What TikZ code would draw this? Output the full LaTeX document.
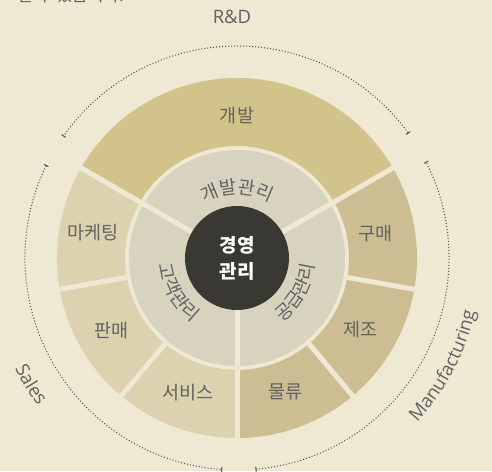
\documentclass[tikz,border=0pt]{standalone}
\usepackage{fontspec}
\setmainfont{Noto Sans CJK KR}
\newfontfamily\latinfont{Open Sans}
\usepackage{tikz}
\usetikzlibrary{
  arrows.meta,
  decorations.text
}
\definecolor{paper}{HTML}{EFE8D2}
\definecolor{rndfill}{HTML}{D2C38B}
\definecolor{mfgfill}{HTML}{CCBD93}
\definecolor{salesfill}{HTML}{DCD2AF}
\definecolor{corefill}{HTML}{D8D3BF}
\definecolor{hubfill}{HTML}{3A3832}
\definecolor{labelgray}{HTML}{626262}

\begin{document}
\begin{tikzpicture}[
  x=1pt, y=1pt,
  gap/.style={draw=paper, line width=5pt},
  segtext/.style={text=labelgray, font=\fontsize{18.5}{22}\selectfont},
  grouptext/.style={text=labelgray, font=\latinfont\fontsize{18.5}{22}\selectfont},
  notetext/.style={text=labelgray, font=\fontsize{17}{20}\selectfont, inner sep=0pt},
  span/.style={draw=labelgray!80!black, line width=1pt, dash pattern=on 1pt off 2pt, {Bar[width=5pt]}-{Bar[width=5pt]}},
  curved/.style={decorate, decoration={text along path, text align=center, text={#1}}}
]
\useasboundingbox (-237,-213) rectangle (255,258);
\fill[paper] (-237,-213) rectangle (255,258);

\node[notetext, anchor=base west] (note) at (-219.5,256) {할 수 있습니다.};

\fill[rndfill] (30:112pt) arc[start angle=30, end angle=150, radius=112pt] -- (150:180pt) arc[start angle=150, end angle=30, radius=180pt] -- cycle;
\fill[mfgfill] (-10:112pt) arc[start angle=-10, end angle=30, radius=112pt] -- (30:180pt) arc[start angle=30, end angle=-10, radius=180pt] -- cycle;
\fill[mfgfill] (-50:112pt) arc[start angle=-50, end angle=-10, radius=112pt] -- (-10:180pt) arc[start angle=-10, end angle=-50, radius=180pt] -- cycle;
\fill[mfgfill] (-90:112pt) arc[start angle=-90, end angle=-50, radius=112pt] -- (-50:180pt) arc[start angle=-50, end angle=-90, radius=180pt] -- cycle;
\fill[salesfill] (-130:112pt) arc[start angle=-130, end angle=-90, radius=112pt] -- (-90:180pt) arc[start angle=-90, end angle=-130, radius=180pt] -- cycle;
\fill[salesfill] (-170:112pt) arc[start angle=-170, end angle=-130, radius=112pt] -- (-130:180pt) arc[start angle=-130, end angle=-170, radius=180pt] -- cycle;
\fill[salesfill] (150:112pt) arc[start angle=150, end angle=190, radius=112pt] -- (190:180pt) arc[start angle=190, end angle=150, radius=180pt] -- cycle;
\fill[corefill] (0,0) circle[radius=108pt];

\draw[gap] (30:50pt) -- (30:183pt);
\draw[gap] (150:50pt) -- (150:183pt);
\draw[gap] (-90:50pt) -- (-90:183pt);
\draw[gap] (-10:110pt) -- (-10:183pt);
\draw[gap] (-50:110pt) -- (-50:183pt);
\draw[gap] (-130:110pt) -- (-130:183pt);
\draw[gap] (-170:110pt) -- (-170:183pt);

\node[circle, fill=hubfill, minimum size=104pt, inner sep=0pt, align=center, text=white, font=\bfseries\fontsize{19}{26}\selectfont] (hub) at (0,0) {경영\\관리};

\node[segtext] (dev) at (90:142pt) {개발};
\node[segtext] (purchase) at (10:141pt) {구매};
\node[segtext] (production) at (-30:143pt) {제조};
\node[segtext] (logistics) at (-70:142pt) {물류};
\node[segtext] (service) at (-110:143pt) {서비스};
\node[segtext] (selling) at (-150:145pt) {판매};
\node[segtext] (marketing) at (170:146pt) {마케팅};

\path[curved={|\fontsize{18.5}{22}\selectfont\color{labelgray}|개발관리}] (125:64pt) arc[start angle=125, end angle=55, radius=64pt];
\path[curved={|\fontsize{18.5}{22}\selectfont\color{labelgray}|공급관리}] (-75:78pt) arc[start angle=-75, end angle=15, radius=78pt];
\path[curved={|\fontsize{18.5}{22}\selectfont\color{labelgray}|고객관리}] (165:78pt) arc[start angle=165, end angle=255, radius=78pt];

\draw[span] (36:212pt) arc[start angle=36, end angle=145, radius=212pt];
\draw[span] (154:212pt) arc[start angle=154, end angle=266, radius=212pt];
\draw[span] (-85:212pt) arc[start angle=-85, end angle=27, radius=212pt];

\node[grouptext] (rnd) at (-5,241) {R\&D};
\path[curved={|\latinfont\fontsize{18.5}{22}\selectfont\color{labelgray}|Sales}] (190:248pt) arc[start angle=190, end angle=233, radius=248pt];
\path[curved={|\latinfont\fontsize{18.5}{22}\selectfont\color{labelgray}|Manufacturing}] (-60:244pt) arc[start angle=-60, end angle=5, radius=244pt];
\end{tikzpicture}
\end{document}
